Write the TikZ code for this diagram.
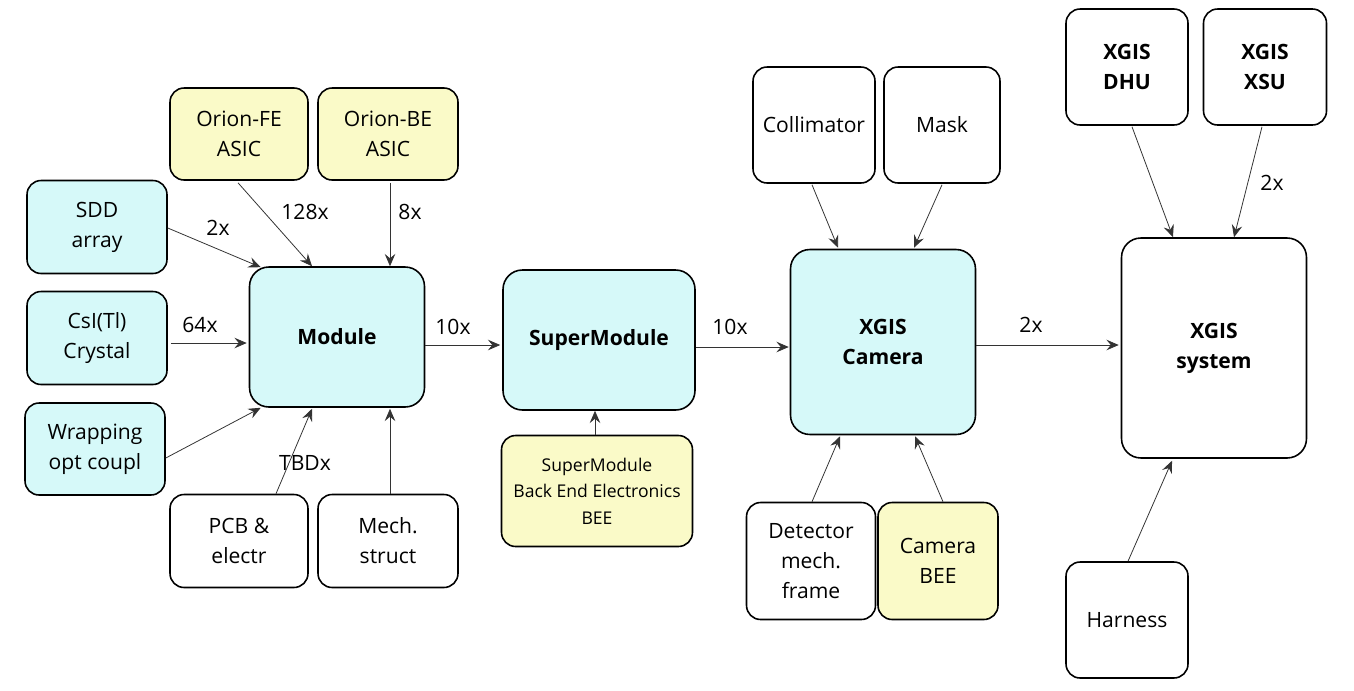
\documentclass[tikz,border=0pt]{standalone}
\usepackage{fontspec}
\setmainfont{Open Sans}
\usepackage{xcolor}
\usepackage{tikz}
\usetikzlibrary{arrows.meta}
\usetikzlibrary{calc}
\definecolor{ciano}{RGB}{214,249,249}
\definecolor{amarelo}{RGB}{250,250,200}
\tikzset{
  bloco/.style={draw, line width=0.9pt, rounded corners=8pt, fill=white, align=center, minimum width=#1, inner sep=3pt, font=\fontsize{12}{17}\selectfont},
  bloco/.default=2.4cm,
  azul/.style={bloco=#1, fill=ciano},
  azul/.default=2.8cm,
  amar/.style={bloco=#1, fill=amarelo},
  amar/.default=2.8cm,
  grande/.style={font=\fontsize{12}{17}\selectfont\bfseries, rounded corners=11pt},
  seta/.style={-{Stealth[length=7pt, width=6pt, inset=2.5pt]}, line width=0.45pt, draw=black!80},
  qtd/.style={font=\fontsize{12}{14}\selectfont, inner sep=1pt},
}
\begin{document}
\begin{tikzpicture}[x=0.02cm, y=-0.02cm]
  \useasboundingbox (0,0) rectangle (1354,690);

  % Module and its parts
  \node[azul=3.5cm, grande, minimum height=2.8cm] (mod) at (337,337) {Module};
  \node[amar=2.76cm, minimum height=1.84cm] (ofe) at (239,134) {Orion-FE\\ASIC};
  \node[amar=2.8cm, minimum height=1.84cm] (obe) at (388,134) {Orion-BE\\ASIC};
  \node[azul, minimum height=1.86cm] (sdd) at (97,227) {SDD\\array};
  \node[azul, minimum height=1.86cm] (csi) at (97,338) {CsI(Tl)\\Crystal};
  \node[azul, minimum height=1.84cm] (wrap) at (95,449) {Wrapping\\opt coupl};
  \node[bloco=2.76cm, minimum height=1.86cm] (pcb) at (239,541) {PCB \&\\electr};
  \node[bloco=2.8cm, minimum height=1.86cm] (mech) at (388,541) {Mech.\\struct};

  % SuperModule
  \node[azul=3.84cm, grande, minimum height=2.8cm] (smod) at (599,340) {SuperModule};
  \node[amar=3.82cm, minimum height=2.22cm, font=\fontsize{10}{15}\selectfont] (sbee) at (597,491) {SuperModule\\Back End Electronics\\BEE};

  % Camera
  \node[azul=3.7cm, grande, minimum height=3.7cm] (cam) at (883,342) {XGIS\\Camera};
  \node[bloco=2.44cm, minimum height=2.32cm] (coll) at (814,125) {Collimator};
  \node[bloco=2.32cm, minimum height=2.32cm] (mask) at (942,125) {Mask};
  \node[bloco=2.58cm, minimum height=2.34cm] (frame) at (811,561) {Detector\\mech.\\frame};
  \node[amar=2.4cm, minimum height=2.34cm] (cbee) at (938,561) {Camera\\BEE};

  % System
  \node[bloco=3.7cm, grande, minimum height=4.4cm] (sys) at (1214,348) {XGIS\\system};
  \node[bloco=2.44cm, minimum height=2.32cm, font=\fontsize{12}{17}\selectfont\bfseries] (dhu) at (1127,67) {XGIS\\DHU};
  \node[bloco=2.46cm, minimum height=2.32cm, font=\fontsize{12}{17}\selectfont\bfseries] (xsu) at (1265,67) {XGIS\\XSU};
  \node[bloco=2.44cm, minimum height=2.32cm] (harn) at (1127,620) {Harness};

  % connectors
  \draw[seta] ($(sdd.east)+(0,1)$) -- ($(mod.north west)+(12,1)$);
  \draw[seta] ($(csi.east)+(3,5)$) -- ($(mod.west)+(-2,6)$);
  \draw[seta] ($(wrap.east)+(0,9)$) -- ($(mod.south west)+(12,0)$);
  \draw[seta] ($(ofe.south)+(-1,2)$) -- ($(mod.north)+(-25,0)$);
  \draw[seta] ($(obe.south)+(2,2)$) -- ($(mod.north)+(53,0)$);
  \draw[seta] ($(pcb.north)+(37,0)$) -- ($(mod.south)+(-25,1)$);
  \draw[seta] ($(mech.north)+(2,0)$) -- ($(mod.south)+(53,1)$);
  \draw[seta] ($(mod.east)+(0,8)$) -- ($(smod.west)+(-2,5)$);
  \draw[seta] ($(sbee.north)+(-2,0)$) -- ($(smod.south)+(-4,0)$);
  \draw[seta] ($(smod.east)+(0,7)$) -- ($(cam.west)+(-1,5)$);
  \draw[seta] ($(coll.south)+(-2,1)$) -- ($(cam.north)+(-45,-1)$);
  \draw[seta] ($(mask.south)+(0,1)$) -- ($(cam.north)+(31,-1)$);
  \draw[seta] ($(frame.north)+(1,0)$) -- ($(cam.south)+(-43,1)$);
  \draw[seta] ($(cbee.north)+(5,0)$) -- ($(cam.south)+(32,1)$);
  \draw[seta] ($(cam.east)+(0,3)$) -- ($(sys.west)+(-2,-3)$);
  \draw[seta] ($(dhu.south)+(5,1)$) -- ($(sys.north)+(-41,0)$);
  \draw[seta] ($(xsu.south)+(-3,1)$) -- ($(sys.north)+(20,0)$);
  \draw[seta] ($(harn.north)+(1,0)$) -- ($(sys.south)+(-42,2)$);

  % quantities
  \node[qtd] (q1) at (218,228) {2x};
  \node[qtd] (q2) at (200,325) {64x};
  \node[qtd] (q3) at (305,212) {128x};
  \node[qtd] (q4) at (410,212) {8x};
  \node[qtd] (q5) at (305,463) {TBDx};
  \node[qtd] (q6) at (453,327) {10x};
  \node[qtd] (q7) at (730,327) {10x};
  \node[qtd] (q8) at (1031,325) {2x};
  \node[qtd] (q9) at (1272,183) {2x};
\end{tikzpicture}
\end{document}
